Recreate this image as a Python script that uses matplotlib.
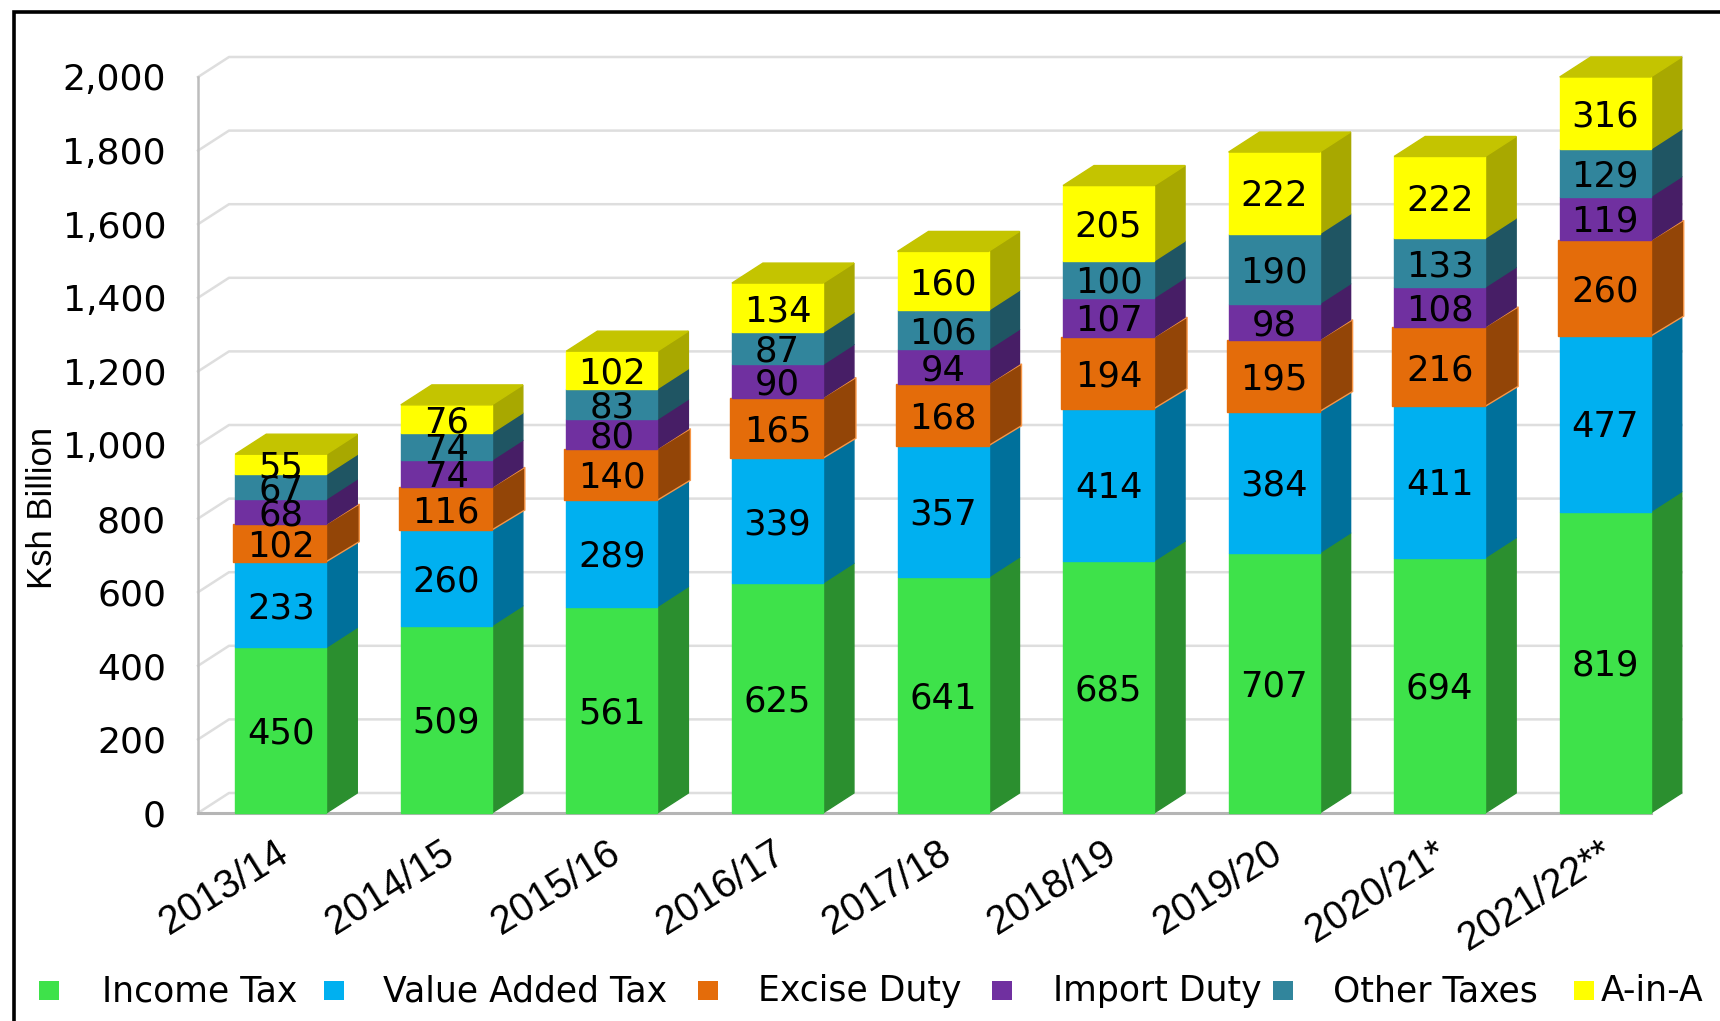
import numpy as np
import matplotlib
matplotlib.use("Agg")
import matplotlib.pyplot as plt
from matplotlib.lines import Line2D
from matplotlib.patches import Polygon, Rectangle

years = ["2013/14", "2014/15", "2015/16", "2016/17", "2017/18",
         "2018/19", "2019/20", "2020/21*", "2021/22**"]
income_tax = [450, 509, 561, 625, 641, 685, 707, 694, 819]
vat = [233, 260, 289, 339, 357, 414, 384, 411, 477]
excise = [102, 116, 140, 165, 168, 194, 195, 216, 260]
import_duty = [68, 74, 80, 90, 94, 107, 98, 108, 119]
other_taxes = [67, 74, 83, 87, 106, 100, 190, 133, 129]
a_in_a = [55, 76, 102, 134, 160, 205, 222, 222, 316]
series_names = ["Income Tax", "Value Added Tax", "Excise Duty",
                "Import Duty", "Other Taxes", "A-in-A"]
y_ticks = list(range(0, 2001, 200))

series = [income_tax, vat, excise, import_duty, other_taxes, a_in_a]
front_colors = ["#3EE24A", "#00B0F0", "#E46C0A", "#7030A0", "#31859C", "#FFFF00"]
side_colors = ["#2B8F2F", "#00709B", "#934507", "#471E66", "#1F5563", "#A8A800"]
top_colors = ["#2FB038", "#008AC0", "#B55508", "#58267E", "#266A7C", "#C4C400"]

W, H = 1720, 1021
fig = plt.figure(figsize=(W / 100, H / 100), dpi=100)
fig.patch.set_facecolor("white")


def fx(px):
    return px / W


def fy(px):
    return 1 - px / H


# axes box in pixels
left, right, top, bottom = 198, 1688, 77, 813
ax = fig.add_axes([fx(left), fy(bottom), (right - left) / W, (bottom - top) / H])
ax.set_xlim(-0.5, 8.5)
ax.set_ylim(0, 2000)
ax.patch.set_alpha(0)
for s in ax.spines.values():
    s.set_visible(False)

# depth of the fake 3d, in data units
px_x = (right - left) / 9
depth_x = 31 / px_x
depth_y = 20 / ((bottom - top) / 2000)
bar_w = 91 / px_x
wall_end = 8 + bar_w / 2 + depth_x

# back wall grid
for v in y_ticks:
    ax.add_line(Line2D([-0.5, -0.5 + depth_x, wall_end], [v, v + depth_y, v + depth_y],
                       color="#DEDEDE", lw=1.8, clip_on=False, zorder=1))
ax.add_line(Line2D([-0.5, -0.5], [0, 2000], color="#BDBDBD", lw=1.8, clip_on=False, zorder=2))
ax.add_line(Line2D([-0.5, wall_end - depth_x], [0, 0], color="#B5B5B5", lw=2.2, clip_on=False, zorder=2))


def add_poly(pts, color, edge=None, z=3):
    ax.add_patch(Polygon(pts, closed=True, facecolor=color, edgecolor=edge or color,
                         lw=1, clip_on=False, zorder=z))


for i in range(len(years)):
    base = 0
    for k, vals in enumerate(series):
        # excise duty block sits a little proud of the column
        grow = 2 / px_x if k == 2 else 0
        x0 = i - bar_w / 2 - grow
        x1 = i + bar_w / 2
        # 2021/22 runs past the axis maximum, the column is cut at 2,000
        low = min(base, 2000)
        high = min(base + vals[i], 2000)
        edge = "#F79646" if k == 2 else None
        add_poly([(x1, low), (x1 + depth_x + grow, low + depth_y),
                  (x1 + depth_x + grow, high + depth_y), (x1, high)], side_colors[k], edge, 3 + k)
        ax.add_patch(Rectangle((x0, low), x1 - x0, high - low, facecolor=front_colors[k],
                               edgecolor=front_colors[k], lw=1,
                               clip_on=False, zorder=3 + k))
        if k == len(series) - 1:
            add_poly([(x0, high), (x1, high), (x1 + depth_x, high + depth_y),
                      (x0 + depth_x, high + depth_y)], top_colors[k], None, 3 + k)
        ax.text(i, (low + high) / 2, str(vals[i]), ha="center", va="center_baseline",
                fontsize=25.5, color="black", zorder=20)
        base += vals[i]

ax.set_yticks(y_ticks)
ax.set_yticklabels([f"{v:,}" for v in y_ticks], fontsize=26)
ax.tick_params(axis="y", length=0, pad=23)
ax.set_xticks(range(len(years)))
ax.set_xticklabels(years, rotation=32, ha="right", rotation_mode="anchor",
                   fontsize=28.5, family="Liberation Sans")
ax.tick_params(axis="x", length=0, pad=15)
# shift the rotated labels left to sit under the column as in the reference
for t in ax.get_xticklabels():
    t.set_x(t.get_position()[0])
    t.set_transform(t.get_transform() + matplotlib.transforms.Affine2D().translate(-6, 0))
fig.text(fx(42), fy(508), "Ksh Billion", rotation=90, ha="center", va="center",
         fontsize=25, family="Liberation Sans")

# legend row, placed by hand to follow the reference spacing
marker_x = [39, 324, 698, 992, 1273, 1574]
text_x = [102, 383, 758, 1053, 1333, 1601]
for k, name in enumerate(series_names):
    fig.add_artist(Rectangle((fx(marker_x[k]), fy(1000)), 20 / W, 19 / H,
                             transform=fig.transFigure, facecolor=front_colors[k],
                             edgecolor="none"))
    fig.text(fx(text_x[k]), fy(991), name, ha="left", va="center", fontsize=24.9)

# black frame, only left and top are in the crop
fig.add_artist(Line2D([fx(14), fx(14), 1], [0, fy(12), fy(12)], color="black", lw=2.6,
                      transform=fig.transFigure, solid_joinstyle="miter"))

fig.savefig("out.png", dpi=100)
